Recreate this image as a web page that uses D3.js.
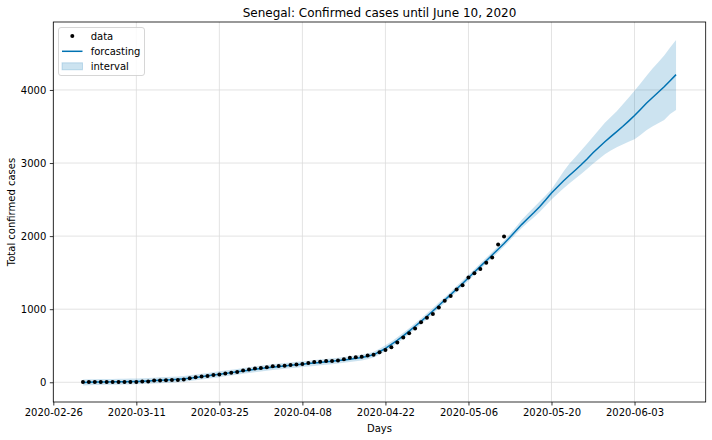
<!DOCTYPE html>
<html>
<head>
<meta charset="utf-8">
<script src="https://cdn.jsdelivr.net/npm/d3@7"></script>
<style>
  html, body { margin: 0; padding: 0; background: #fff; }
  svg { display: block; font-family: "DejaVu Sans", sans-serif; }
</style>
</head>
<body>
<script>
// ---------------- DATA ----------------
const startDate = "2020-03-02";   // first day of data / forecast
const endDate = "2020-06-10";     // last forecast day
const xDomain = ["2020-02-26", "2020-06-15"];
const xTickLabels = ["2020-02-26", "2020-03-11", "2020-03-25", "2020-04-08", "2020-04-22", "2020-05-06", "2020-05-20", "2020-06-03"];
const yTicks = [0, 1000, 2000, 3000, 4000];

// observed confirmed cases (2020-03-02 .. 2020-05-12)
const observed = [
  2, 4, 4, 4, 4, 4, 4, 4, 4, 4, 10, 10, 24, 24, 27, 31, 31, 38, 56, 67, 79, 86, 99, 105, 119, 130, 142, 162, 175,
  190, 195, 207, 219, 222, 226, 237, 244, 250, 265, 278, 280, 291, 291, 299, 314, 335, 342, 350, 367, 377, 412, 442, 479, 545, 614, 671, 736, 823, 882, 933,
  1024, 1115, 1182, 1271, 1329, 1433, 1492, 1551, 1634, 1709, 1886, 1995
];

// forecast (yhat) 2020-03-02 .. 2020-06-10
const forecast = [
  -3, 0, 2, 4, 5, 6, 7,
  8, 10, 12, 15, 19, 23, 27,
  31, 35, 40, 47, 56, 66, 77,
  88, 99, 110, 121, 132, 143, 155,
  166, 177, 188, 198, 207, 216, 224,
  232, 240, 248, 256, 264, 272, 280,
  288, 297, 306, 316, 327, 339, 355,
  378, 418, 465, 518, 575, 636, 700,
  766, 834, 904, 976, 1050, 1125, 1200,
  1276, 1352, 1430, 1508, 1586, 1664, 1742,
  1820, 1898, 1985, 2073, 2161, 2241, 2319,
  2401, 2493, 2590, 2672, 2754, 2829, 2901,
  2976, 3056, 3140, 3216, 3292, 3362, 3430,
  3500, 3574, 3650, 3734, 3818, 3894, 3968,
  4044, 4126, 4210
];

const lower = [
  -43, -40, -38, -36, -35, -34, -33,
  -32, -30, -28, -25, -21, -17, -13,
  -9, -5, 0, 7, 16, 26, 37,
  48, 59, 70, 81, 92, 103, 115,
  126, 137, 148, 158, 167, 176, 184,
  192, 200, 208, 216, 224, 232, 240,
  248, 257, 266, 276, 287, 299, 315,
  338, 378, 425, 478, 535, 596, 660,
  726, 794, 864, 936, 1010, 1085, 1160,
  1236, 1312, 1390, 1468, 1546, 1624, 1702,
  1780, 1858, 1945, 2028, 2110, 2185, 2255,
  2330, 2415, 2500, 2575, 2650, 2720, 2785,
  2850, 2920, 2990, 3055, 3120, 3170, 3215,
  3255, 3290, 3325, 3385, 3450, 3500, 3545,
  3590, 3670, 3725
];

const upper = [
  37, 40, 42, 44, 45, 46, 47,
  48, 50, 52, 55, 59, 63, 67,
  71, 75, 80, 87, 96, 106, 117,
  128, 139, 150, 161, 172, 183, 195,
  206, 217, 228, 238, 247, 256, 264,
  272, 280, 288, 296, 304, 312, 320,
  328, 337, 346, 356, 367, 379, 395,
  418, 458, 505, 558, 615, 676, 740,
  806, 874, 944, 1016, 1090, 1165, 1240,
  1316, 1392, 1470, 1548, 1626, 1704, 1782,
  1860, 1938, 2030, 2125, 2225, 2310, 2390,
  2475, 2555, 2640, 2760, 2880, 2990, 3080,
  3170, 3265, 3360, 3455, 3550, 3630, 3710,
  3800, 3895, 3990, 4090, 4190, 4290, 4380,
  4470, 4580, 4683
];

const legendLabels = ["data", "forcasting", "interval"];
const titleText = "Senegal: Confirmed cases until June 10, 2020";
const xLabel = "Days";
const yLabel = "Total confirmed cases";

// ---------------- CHART ----------------
const W = 712, H = 440;
const M = { left: 53.3, right: 712 - 705.7, top: 22, bottom: 440 - 402 };
const lineColor = "#0072B2";

const parse = d3.utcParse("%Y-%m-%d");
const days = d3.utcDays(parse(startDate), d3.utcDay.offset(parse(endDate), 1));

const x = d3.scaleUtc().domain(xDomain.map(parse)).range([M.left, W - M.right]);
const y = d3.scaleLinear().domain([-270, 4930]).range([H - M.bottom, M.top]);

const svg = d3.select("body").append("svg").attr("width", W).attr("height", H);

// grid
const grid = svg.append("g").attr("stroke", "#dcdcdc").attr("stroke-width", 0.8);
xTickLabels.forEach(t => {
  grid.append("line").attr("x1", x(parse(t))).attr("x2", x(parse(t)))
    .attr("y1", M.top).attr("y2", H - M.bottom);
});
yTicks.forEach(t => {
  grid.append("line").attr("x1", M.left).attr("x2", W - M.right)
    .attr("y1", y(t)).attr("y2", y(t));
});

// interval band
const fc = days.map((d, i) => ({ d, yhat: forecast[i], lo: lower[i], hi: upper[i] }));
svg.append("path").datum(fc)
  .attr("fill", lineColor).attr("fill-opacity", 0.2)
  .attr("d", d3.area().x(p => x(p.d)).y0(p => y(p.lo)).y1(p => y(p.hi)));

// forecast line
svg.append("path").datum(fc)
  .attr("fill", "none").attr("stroke", lineColor).attr("stroke-width", 1.5)
  .attr("d", d3.line().x(p => x(p.d)).y(p => y(p.yhat)));

// observed points
svg.append("g").selectAll("circle").data(observed).join("circle")
  .attr("cx", (v, i) => x(days[i])).attr("cy", v => y(v)).attr("r", 2).attr("fill", "#000");

// axes
const xAxis = d3.axisBottom(x).tickValues(xTickLabels.map(parse))
  .tickFormat(d3.utcFormat("%Y-%m-%d")).tickSizeOuter(0).tickSize(3.5).tickPadding(3.5);
const gx = svg.append("g").attr("transform", `translate(0,${H - M.bottom})`).call(xAxis);
const yAxis = d3.axisLeft(y).tickValues(yTicks).tickFormat(d3.format("d"))
  .tickSizeOuter(0).tickSize(3.5).tickPadding(3.5);
const gy = svg.append("g").attr("transform", `translate(${M.left},0)`).call(yAxis);
[gx, gy].forEach(g => {
  g.select(".domain").remove();
  g.selectAll("text").attr("font-size", 10).attr("font-family", "DejaVu Sans").attr("fill", "#000");
  g.selectAll("line").attr("stroke", "#000").attr("stroke-width", 0.8);
});

// frame
svg.append("rect").attr("x", M.left).attr("y", M.top)
  .attr("width", W - M.right - M.left).attr("height", H - M.bottom - M.top)
  .attr("fill", "none").attr("stroke", "#000").attr("stroke-width", 0.8);

// title & labels
svg.append("text").attr("x", (M.left + W - M.right) / 2).attr("y", 17)
  .attr("text-anchor", "middle").attr("font-size", 12).text(titleText);
svg.append("text").attr("x", (M.left + W - M.right) / 2).attr("y", 432)
  .attr("text-anchor", "middle").attr("font-size", 10).text(xLabel);
svg.append("text").attr("transform", `translate(15,${(M.top + H - M.bottom) / 2}) rotate(-90)`)
  .attr("text-anchor", "middle").attr("font-size", 10).text(yLabel);

// legend
const lg = svg.append("g");
lg.append("rect").attr("x", 58.5).attr("y", 27.5).attr("width", 86).attr("height", 48)
  .attr("rx", 2.5).attr("fill", "#fff").attr("fill-opacity", 0.8)
  .attr("stroke", "#cccccc").attr("stroke-width", 0.8);
const rows = [36, 51.3, 66.3];
lg.append("circle").attr("cx", 72.3).attr("cy", rows[0]).attr("r", 2).attr("fill", "#000");
lg.append("line").attr("x1", 62).attr("x2", 82.5).attr("y1", rows[1]).attr("y2", rows[1])
  .attr("stroke", lineColor).attr("stroke-width", 1.5);
lg.append("rect").attr("x", 62).attr("y", rows[2] - 3.5).attr("width", 20.5).attr("height", 7)
  .attr("fill", lineColor).attr("fill-opacity", 0.2).attr("stroke", lineColor).attr("stroke-opacity", 0.2);
legendLabels.forEach((t, i) => {
  lg.append("text").attr("x", 90.7).attr("y", rows[i]).attr("dy", "0.35em")
    .attr("font-size", 10).text(t);
});
</script>
</body>
</html>
